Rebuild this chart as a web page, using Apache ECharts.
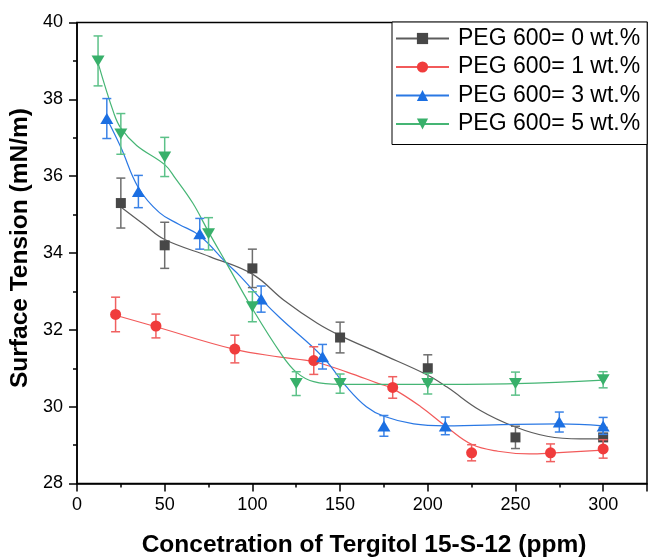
<!DOCTYPE html>
<html>
<head>
<meta charset="utf-8">
<script src="https://cdn.jsdelivr.net/npm/echarts@6/dist/echarts.min.js"></script>
<style>html,body{margin:0;padding:0;background:#fff}#c{width:648px;height:557px}</style>
</head>
<body>
<div id="c"></div>
<script>
// ---- data ----
const seriesNames = ['PEG 600= 0 wt.%', 'PEG 600= 1 wt.%', 'PEG 600= 3 wt.%', 'PEG 600= 5 wt.%'];

const peg0X = [25, 50, 100, 150, 200, 250, 300];
const peg0Y = [35.3, 34.2, 33.6, 31.8, 31.0, 29.2, 29.2];
const peg0Err = [0.65, 0.6, 0.5, 0.4, 0.35, 0.29, 0.26];

const peg1X = [22, 45, 90, 135, 180, 225, 270, 300];
const peg1Y = [32.4, 32.1, 31.5, 31.2, 30.5, 28.8, 28.8, 28.9];
const peg1Err = [0.45, 0.31, 0.36, 0.36, 0.28, 0.21, 0.23, 0.24];

const peg3X = [17, 35, 70, 105, 140, 175, 210, 275, 300];
const peg3Y = [37.5, 35.6, 34.5, 32.8, 31.3, 29.5, 29.5, 29.6, 29.5];
const peg3Err = [0.52, 0.42, 0.4, 0.34, 0.32, 0.27, 0.23, 0.26, 0.22];

const peg5X = [12, 25, 50, 75, 100, 125, 150, 200, 250, 300];
const peg5Y = [39.0, 37.1, 36.5, 34.5, 32.6, 30.6, 30.6, 30.6, 30.6, 30.7];
const peg5Err = [0.65, 0.53, 0.51, 0.42, 0.39, 0.31, 0.25, 0.27, 0.3, 0.21];

// fitted curves
const peg0CurveX = [25, 38, 50, 76, 100, 118, 137, 150, 173, 200, 211, 230, 250, 268, 287, 300];
const peg0CurveY = [35.2, 34.75, 34.35, 33.9, 33.45, 32.77, 32.17, 31.85, 31.38, 30.82, 30.51, 29.9, 29.47, 29.23, 29.16, 29.16];
const peg1CurveX = [22, 45, 90, 116, 135, 154, 172, 180, 196, 210, 225, 240, 258, 270, 300];
const peg1CurveY = [32.38, 32.08, 31.49, 31.29, 31.17, 30.9, 30.6, 30.47, 30.0, 29.5, 29.02, 28.84, 28.77, 28.79, 28.87];
const peg3CurveX = [17, 25, 35, 47, 58, 70, 85, 93, 105, 116, 140, 154, 165, 175, 192, 210, 250, 275, 300];
const peg3CurveY = [37.5, 36.75, 35.7, 35.05, 34.75, 34.45, 33.75, 33.4, 32.8, 32.3, 31.3, 30.5, 30.0, 29.75, 29.55, 29.5, 29.54, 29.55, 29.5];
const peg5CurveX = [12, 21, 25, 34, 50, 56, 66, 75, 85, 100, 116, 125, 135, 150, 200, 250, 300];
const peg5CurveY = [38.95, 37.64, 37.25, 36.8, 36.3, 35.95, 35.3, 34.55, 33.75, 32.55, 31.4, 30.9, 30.65, 30.58, 30.58, 30.6, 30.69];

// ---- styles ----
const styles = [
  {color: '#474747', line: '#5c5c5c', err: '#6e6e6e', symbol: 'rect', size: 10, rotate: 0},
  {color: '#f03c3c', line: '#f25a5a', err: '#f06060', symbol: 'circle', size: 11, rotate: 0},
  {color: '#1b6fe2', line: '#2a78e4', err: '#3a82e6', symbol: 'triangle', size: [13, 11], rotate: 0},
  {color: '#38b06a', line: '#45b574', err: '#5cc188', symbol: 'triangle', size: [13, 11], rotate: 180}
];
const pts = [[peg0X, peg0Y, peg0Err], [peg1X, peg1Y, peg1Err], [peg3X, peg3Y, peg3Err], [peg5X, peg5Y, peg5Err]];
const curves = [[peg0CurveX, peg0CurveY], [peg1CurveX, peg1CurveY], [peg3CurveX, peg3CurveY], [peg5CurveX, peg5CurveY]];

const FONT = '"Liberation Sans", Arial, sans-serif';
const series = [];
curves.forEach((c, i) => {
  const s = styles[i];
  series.push({
    name: seriesNames[i], type: 'line', smooth: 0.4,
    data: c[0].map((x, k) => [x, c[1][k]]),
    showSymbol: false, symbol: s.symbol, symbolSize: s.size, symbolRotate: s.rotate,
    itemStyle: {color: s.color},
    lineStyle: {color: s.line, width: 1.2},
    silent: true, z: 2
  });
});
pts.forEach((p, i) => {
  const s = styles[i];
  series.push({
    name: 'err' + i, type: 'custom', z: 3 + i * 2,
    data: p[0].map((x, k) => [x, p[1][k] - p[2][k], p[1][k] + p[2][k]]),
    renderItem: function (params, api) {
      const x = api.value(0);
      const a = api.coord([x, api.value(2)]);
      const b = api.coord([x, api.value(1)]);
      const h = 4.5;
      const st = {stroke: s.err, lineWidth: 1.5};
      return {type: 'group', children: [
        {type: 'line', shape: {x1: a[0], y1: a[1], x2: b[0], y2: b[1]}, style: st},
        {type: 'line', shape: {x1: a[0] - h, y1: a[1], x2: a[0] + h, y2: a[1]}, style: st},
        {type: 'line', shape: {x1: b[0] - h, y1: b[1], x2: b[0] + h, y2: b[1]}, style: st}
      ]};
    },
    silent: true
  });
  series.push({
    name: 'pts' + i, type: 'scatter', z: 4 + i * 2,
    data: p[0].map((x, k) => [x, p[1][k]]),
    symbol: s.symbol, symbolSize: s.size, symbolRotate: s.rotate,
    itemStyle: {color: s.color, opacity: 1},
    silent: true
  });
});

const chart = echarts.init(document.getElementById('c'), null, {renderer: 'canvas'});
chart.setOption({
  animation: false,
  backgroundColor: '#fff',
  grid: {left: 77, top: 22.5, right: 1, bottom: 73.5, show: true, borderColor: '#000', borderWidth: 1.5, backgroundColor: 'transparent', containLabel: false, outerBoundsMode: 'none'},
  legend: {
    data: seriesNames, orient: 'vertical', left: 392, top: 22,
    padding: [5, 7, 9, 3], itemGap: 5.5, itemWidth: 53, itemHeight: 14,
    backgroundColor: '#fff', borderColor: '#000', borderWidth: 1, borderRadius: 0,
    textStyle: {fontFamily: FONT, fontSize: 23, color: '#000', padding: [0, 0, 0, 4]},
    selectedMode: false
  },
  xAxis: {
    type: 'value', min: 0, max: 325, interval: 50,
    name: 'Concetration of Tergitol 15-S-12 (ppm)', nameLocation: 'middle', nameGap: 49, nameMoveOverlap: false,
    nameTextStyle: {fontFamily: FONT, fontSize: 24.5, fontWeight: 'bold', color: '#000', padding: [0, 0, 0, 4]},
    axisLine: {show: true, onZero: false, lineStyle: {color: '#000', width: 1.5}},
    axisTick: {show: true, inside: false, length: 8, lineStyle: {color: '#000', width: 1.5}},
    minorTick: {show: true, splitNumber: 2, length: 4, lineStyle: {color: '#000', width: 1.5}},
    axisLabel: {fontFamily: FONT, fontSize: 18, color: '#000', margin: 13, showMaxLabel: false},
    splitLine: {show: false}
  },
  yAxis: {
    type: 'value', min: 28, max: 40, interval: 2,
    name: 'Surface Tension (mN/m)', nameLocation: 'middle', nameGap: 44, nameMoveOverlap: false,
    nameTextStyle: {fontFamily: FONT, fontSize: 24.5, fontWeight: 'bold', color: '#000', padding: [0, 0, 0, 10]},
    axisLine: {show: true, onZero: false, lineStyle: {color: '#000', width: 1.5}},
    axisTick: {show: true, inside: false, length: 8, lineStyle: {color: '#000', width: 1.5}},
    minorTick: {show: true, splitNumber: 2, length: 4, lineStyle: {color: '#000', width: 1.5}},
    axisLabel: {fontFamily: FONT, fontSize: 18, color: '#000', margin: 14},
    splitLine: {show: false}
  },
  series: series
});
</script>
</body>
</html>
